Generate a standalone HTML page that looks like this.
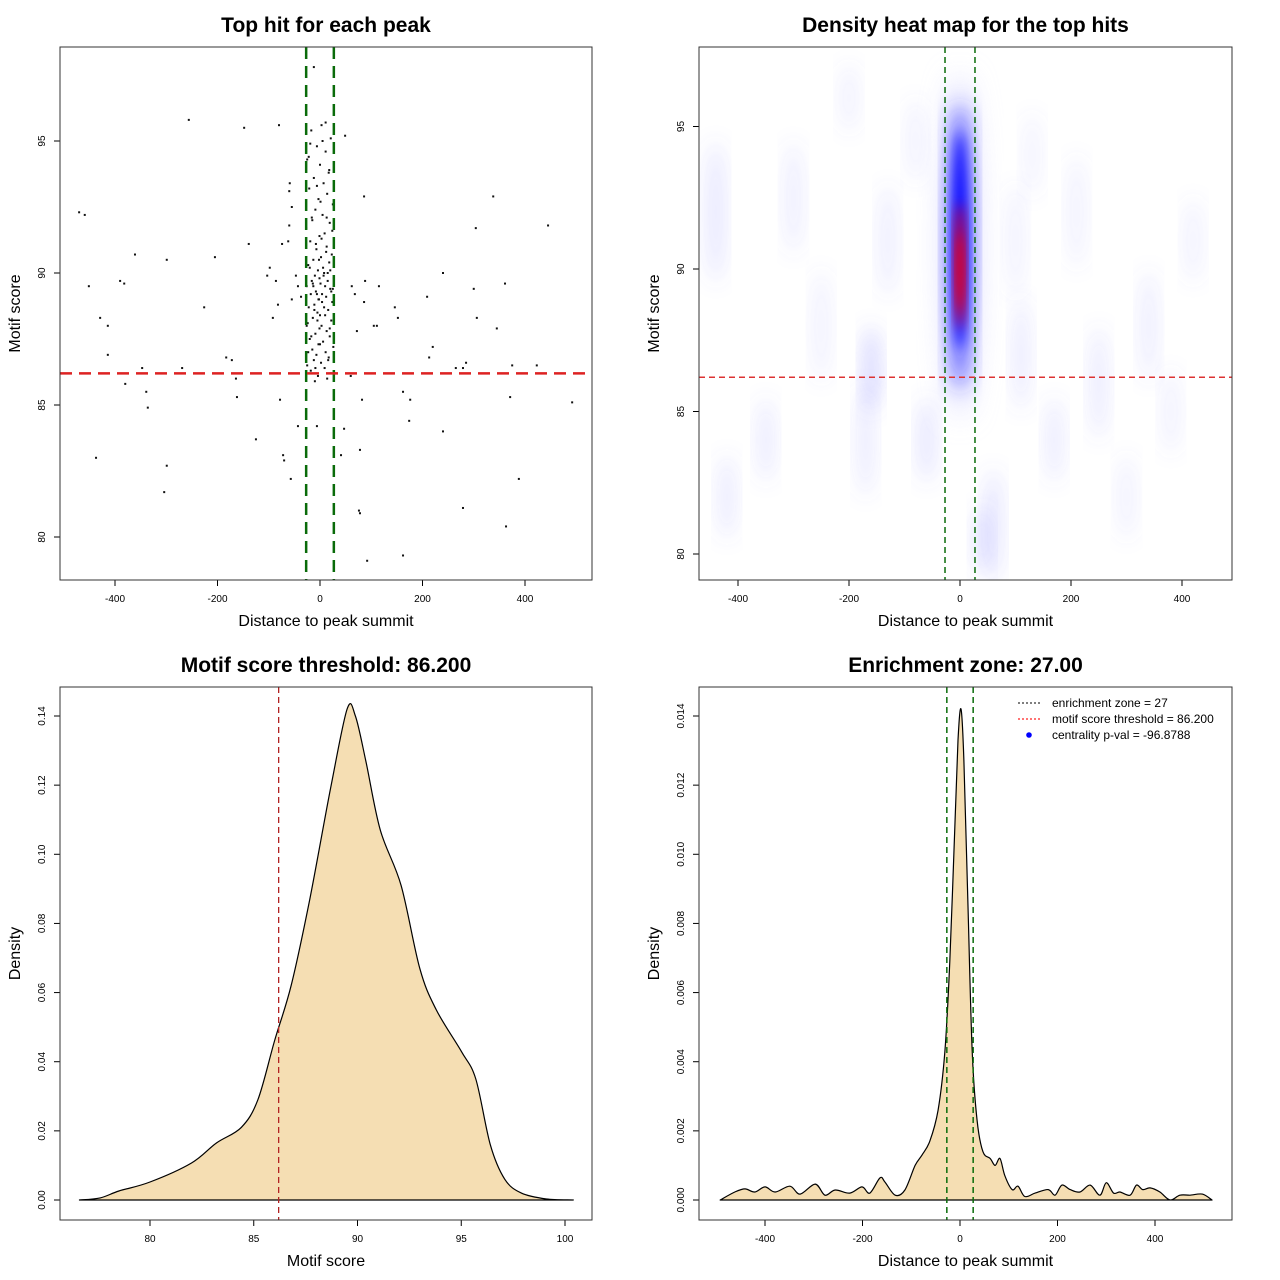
<!DOCTYPE html>
<html><head><meta charset="utf-8"><style>
html,body{margin:0;padding:0;background:#fff}
svg{display:block;font-family:"Liberation Sans",sans-serif}
</style></head><body>
<svg id="root" width="1280" height="1280" viewBox="0 0 1280 1280">
<defs>
<filter id="blur6" x="-50%" y="-50%" width="200%" height="200%"><feGaussianBlur stdDeviation="6"/></filter>
<filter id="blur10" x="-50%" y="-50%" width="200%" height="200%"><feGaussianBlur stdDeviation="10"/></filter>
<filter id="blur14" x="-80%" y="-80%" width="260%" height="260%"><feGaussianBlur stdDeviation="14"/></filter>
<clipPath id="clip2"><rect x="699" y="47" width="533" height="533"/></clipPath>
</defs>
</svg>
<script>
// ---------- DATA ----------
const outerX=[-470,-459,-451,-414,-390,-382,-380,-361,-347,-339,-336,-437,-429,-414,-299,-304,-299,-269,-256,-226,-205,-183,-172,-164,-162,-148,-139,-125,-98,-92,-86,-82,-78,-72,-70,-80,-57,-43,-59,-60,-55,-60,-62,-74,-103,-47,-43,-37,-55,60,62,68,49,86,88,82,72,86,105,111,115,146,162,176,152,174,209,213,220,240,240,265,279,285,300,304,306,338,345,361,371,375,388,423,445,492,279,363,76,78,92,162,78,47,41,-6,-12];
const outerY=[92.3,92.2,89.5,86.9,89.7,89.6,85.8,90.7,86.4,85.5,84.9,83.0,88.3,88.0,90.5,81.7,82.7,86.4,95.8,88.7,90.6,86.8,86.7,86.0,85.3,95.5,91.1,83.7,90.2,88.3,89.7,88.8,85.2,83.1,82.9,95.6,82.2,84.2,93.4,93.1,92.5,91.8,91.2,91.1,89.9,89.9,89.5,89.1,89.0,86.1,89.5,89.2,95.2,92.9,89.7,85.2,87.8,88.9,88.0,88.0,89.5,88.7,85.5,85.2,88.3,84.4,89.1,86.8,87.2,90.0,84.0,86.4,86.4,86.6,89.4,91.7,88.3,92.9,87.9,89.6,85.3,86.5,82.2,86.5,91.8,85.1,81.1,80.4,81.0,80.9,79.1,79.3,83.3,84.1,83.1,84.2,97.8];
const centerX=[3,-17,21,-6,11,-25,0,17,-12,7,-21,14,-3,25,-9,5,-15,19,-27,9,-1,-19,13,-7,23,2,-13,18,-23,6,-4,15,-10,27,-16,1,10,-26,20,-8,4,-18,12,-2,24,-11,8,-22,16,-5,0,-14,22,-24,3,-1,13,-9,19,-20,6,-3,26,-15,11,-7,17,-12,2,-25,9,-18,21,-4,14,-10,5,-22,18,-6,1,-16,24,-8,12,-2,-20,7,15,-13,22,-27,4,-11,10,-5,19,-17,0,-23,16,-9,8,-1,-14,25,-6,11,-19,3,20,-3,-26,13];
const centerY=[95.6,95.4,95.1,94.8,94.6,94.3,94.1,93.8,93.6,93.4,93.2,93.0,92.8,92.6,92.4,92.2,92.0,91.9,91.7,91.5,91.4,91.2,91.0,90.9,90.7,90.6,90.5,90.4,90.3,90.2,90.1,90.0,89.9,89.8,89.7,89.6,89.5,89.5,89.4,89.3,89.2,89.2,89.1,89.0,88.9,88.8,88.7,88.7,88.6,88.5,88.4,88.3,88.2,88.1,88.0,87.9,87.8,87.7,87.6,87.5,87.4,87.3,87.2,87.1,87.0,86.9,86.8,86.7,86.6,86.5,86.4,86.3,86.2,86.1,86.0,85.9,95.0,94.4,93.9,93.3,92.7,92.1,91.6,91.1,90.8,90.5,90.2,89.9,89.7,89.5,89.3,89.1,88.9,88.6,88.4,88.2,87.9,87.6,87.3,87.0,86.7,86.4,90.0,89.8,89.6,89.4,89.2,95.7,94.9,91.3,90.1,89.0,88.0,92.1,87.5,93.5,85.6];
// heatmap blobs: x, y (data), sx, sy (data spread), intensity
const blobX=[-440,-300,-160,-170,-60,-130,60,100,170,210,250,340,420,-350,-420,40,110,-80,-250,300,-200,130,380];
const blobY=[92,92.5,86.5,84,84,91,81,91,84,92,86,88,91,84,82,80.5,87,94.5,88,82,96,94,85];
const blobSX=[14,14,14,14,14,14,14,14,14,14,14,14,14,14,14,14,14,14,14,14,14,14,14];
const blobSY=[2.5,2,1.5,2,1.5,2,2,2,1.5,2,2,2,1.5,1.5,1.5,1.2,2,1.5,2,1.5,1.2,1.5,1.5];
const blobI=[0.2,0.14,0.3,0.16,0.2,0.14,0.2,0.12,0.16,0.12,0.16,0.14,0.12,0.16,0.16,0.2,0.16,0.12,0.12,0.12,0.12,0.1,0.12];
// motif score density
const scoreX=[76.6,77.6,78.5,80,82,83.2,84.4,85.2,86,86.8,87.7,88.7,89.5,89.9,90.4,91.1,92.1,93,93.8,95,95.7,96.4,97.1,97.9,99.1,100.4];
const scoreD=[0,0.0006,0.0026,0.0052,0.0107,0.0165,0.021,0.029,0.046,0.062,0.087,0.119,0.142,0.140,0.127,0.107,0.091,0.067,0.055,0.043,0.035,0.016,0.006,0.002,0.0003,0];
// distance density
const distX=[-492,-462,-441,-421,-400,-379,-349,-328,-297,-277,-256,-226,-201,-185,-164,-154,-133,-113,-92,-78,-62,-45,-31,-21,-10,-4,2,8,16,25,35,47,62,72,82,92,107,119,133,154,181,195,209,226,246,267,287,300,315,328,349,362,375,390,410,431,451,472,497,517];
const distD=[0,0.00023,0.00032,0.00023,0.00038,0.00023,0.0004,0.00017,0.00046,0.00014,0.00029,0.0002,0.00038,0.0002,0.00064,0.00052,0.00014,0.00029,0.001,0.0013,0.0017,0.0026,0.0043,0.0069,0.011,0.0133,0.0142,0.0127,0.0087,0.0043,0.0023,0.0014,0.0012,0.001,0.0012,0.0007,0.0003,0.0004,0.0001,0.0002,0.0003,0.00014,0.00043,0.0003,0.00023,0.00043,0.00014,0.0005,0.0002,0.00023,0.00014,0.00043,0.0003,0.00035,0.00023,0,0.00014,0.00014,0.00017,0];
const xTicks1=[-400,-200,0,200,400];
const yTicks1=[80,85,90,95];
const xTicks3=[80,85,90,95,100];
const yTicks3=[0,0.02,0.04,0.06,0.08,0.10,0.12,0.14];
const yTicks4=[0,0.002,0.004,0.006,0.008,0.010,0.012,0.014];
const zone=27, thresh=86.2;

// ---------- HELPERS ----------
const NS='http://www.w3.org/2000/svg';
const root=document.getElementById('root');
function el(tag,attrs,parent){const e=document.createElementNS(NS,tag);for(const k in attrs)e.setAttribute(k,attrs[k]);(parent||root).appendChild(e);return e;}
function lin(d0,d1,p0,p1){return v=>p0+(v-d0)*(p1-p0)/(d1-d0);}
function txt(s,x,y,size,opts,parent){const t=el('text',Object.assign({x:x,y:y,'font-size':size,'text-anchor':'middle',fill:'#000'},opts||{}),parent);t.textContent=s;return t;}
function smooth(P){
  let d='';
  for(let i=0;i<P.length-1;i++){
    const p0=P[Math.max(i-1,0)],p1=P[i],p2=P[i+1],p3=P[Math.min(i+2,P.length-1)];
    const c1=[p1[0]+(p2[0]-p0[0])/6,p1[1]+(p2[1]-p0[1])/6];
    const c2=[p2[0]-(p3[0]-p1[0])/6,p2[1]-(p3[1]-p1[1])/6];
    d+=` C${c1[0].toFixed(1)},${c1[1].toFixed(1)} ${c2[0].toFixed(1)},${c2[1].toFixed(1)} ${p2[0].toFixed(1)},${p2[1].toFixed(1)}`;
  }
  return d;
}

function panel(name,box,title,xlab,ylab,X,Y,xt,yt,yfmt){
  const g=el('g',{});
  
  
  const tt=txt(title,(box[0]+box[2])/2,box[1]-15,21,{'font-weight':'bold'},g);
  
  
  const xa=el('g',{},g);
  
  
  xt.forEach(v=>{const px=X(v);el('line',{x1:px,x2:px,y1:box[3],y2:box[3]+6,stroke:'#000'},xa);txt(String(v),px,box[3]+22,10,{},xa);});
  el('line',{x1:X(xt[0]),x2:X(xt[xt.length-1]),y1:box[3],y2:box[3],stroke:'#000'},xa);
  const xl=txt(xlab,(box[0]+box[2])/2,box[3]+46,16,{},g);
  
  
  const ya=el('g',{},g);
  
  
  yt.forEach(v=>{const py=Y(v);el('line',{x1:box[0]-6,x2:box[0],y1:py,y2:py,stroke:'#000'},ya);const lx=box[0]-15;txt(yfmt(v),lx,py,10,{transform:`rotate(-90 ${lx} ${py})`},ya);});
  const yl=txt(ylab,box[0]-40,(box[1]+box[3])/2,16,{transform:`rotate(-90 ${box[0]-40} ${(box[1]+box[3])/2})`},g);
  
  
  return g;
}
function frame(box,g){const r=el('rect',{x:box[0],y:box[1],width:box[2]-box[0],height:box[3]-box[1],fill:'none',stroke:'#333','stroke-width':1},g);}

// ---------- PANEL 1: scatter ----------
(function(){
  const box=[60,47,592,580];
  const X=lin(0,200,320,422.5), Y=lin(90,95,273,141);
  const g=panel('scatter-panel',box,'Top hit for each peak','Distance to peak summit','Motif score',X,Y,xTicks1,yTicks1,v=>String(v));
  const pts=el('g',{},g);
  
  
  const allX=outerX.concat(centerX), allY=outerY.concat(centerY);
  for(let i=0;i<allX.length;i++){
    const c=el('rect',{x:X(allX[i])-1,y:Y(allY[i])-1,width:2,height:2,fill:'#111'},pts);
    
    
  }
  [-zone,zone].forEach(z=>{const l=el('line',{x1:X(z),x2:X(z),y1:box[1],y2:box[3],stroke:'#0a6b0a','stroke-width':2.5,'stroke-dasharray':'12,7'},g);});
  const h=el('line',{x1:box[0],x2:box[2],y1:Y(thresh),y2:Y(thresh),stroke:'#dd2222','stroke-width':2.5,'stroke-dasharray':'12,7'},g);
  
  
  frame(box,g);
})();

// ---------- PANEL 2: heatmap ----------
(function(){
  const box=[699,47,1232,580];
  const X=lin(0,200,960,1071), Y=lin(90,95,269,126.5);
  const g=panel('heatmap-panel',box,'Density heat map for the top hits','Distance to peak summit','Motif score',X,Y,xTicks1,yTicks1,v=>String(v));
  const hm=el('g',{'clip-path':'url(#clip2)'},g);
  
  
  for(let i=0;i<blobX.length;i++){
    const e=el('ellipse',{cx:X(blobX[i]),cy:Y(blobY[i]),rx:X(blobSX[i])-X(0),ry:Y(0)-Y(blobSY[i]),fill:'#6a6aff','fill-opacity':blobI[i],filter:'url(#blur10)'},hm);
    
    
  }
  const core=[[0,90.8,30,6,'#d0d0ff',0.8,'url(#blur14)'],[0,90.8,20,5,'#3030ff',0.9,'url(#blur10)'],[0,91,12,3.8,'#0000ff',1,'url(#blur6)'],[0,90.1,8,2.2,'#ff0000',1,'url(#blur6)'],[0,89.9,5,1.4,'#ff1010',1,'url(#blur6)']];
  core.forEach(c=>{const e=el('ellipse',{cx:X(c[0]),cy:Y(c[1]),rx:X(c[2])-X(0),ry:Y(0)-Y(c[3]),fill:c[4],'fill-opacity':c[5],filter:c[6]},hm);});
  [-zone,zone].forEach(z=>{const l=el('line',{x1:X(z),x2:X(z),y1:box[1],y2:box[3],stroke:'#0a6b0a','stroke-width':1.5,'stroke-dasharray':'6,4'},g);});
  const h=el('line',{x1:box[0],x2:box[2],y1:Y(thresh),y2:Y(thresh),stroke:'#dd3333','stroke-width':1.5,'stroke-dasharray':'6,4'},g);
  
  
  frame(box,g);
})();

// ---------- PANEL 3: score density ----------
(function(){
  const box=[60,687,592,1220];
  const X=lin(80,100,150,565), Y=lin(0,0.14,1200,716);
  const g=panel('score-density-panel',box,'Motif score threshold: 86.200','Motif score','Density',X,Y,xTicks3,yTicks3,v=>v.toFixed(2));
  const P=scoreX.map((v,i)=>[X(v),Y(scoreD[i])]);
  const d='M'+P[0][0]+','+P[0][1]+smooth(P)+' Z';
  const p=el('path',{d:d,fill:'#f5deb3',stroke:'#000','stroke-width':1.2,'stroke-linejoin':'round'},g);
  
  
  const l=el('line',{x1:X(thresh),x2:X(thresh),y1:box[1],y2:box[3],stroke:'#b22222','stroke-width':1.3,'stroke-dasharray':'6,4'},g);
  
  
  frame(box,g);
})();

// ---------- PANEL 4: distance density ----------
(function(){
  const box=[699,687,1232,1220];
  const X=lin(0,200,960,1057.5), Y=lin(0,0.014,1200,716);
  const g=panel('distance-density-panel',box,'Enrichment zone: 27.00','Distance to peak summit','Density',X,Y,xTicks1,yTicks4,v=>v.toFixed(3));
  const P=distX.map((v,i)=>[X(v),Y(distD[i])]);
  const d='M'+P[0][0]+','+P[0][1]+smooth(P)+' Z';
  const p=el('path',{d:d,fill:'#f5deb3',stroke:'#000','stroke-width':1.2,'stroke-linejoin':'round'},g);
  
  
  [-zone,zone].forEach(z=>{const l=el('line',{x1:X(z),x2:X(z),y1:box[1],y2:box[3],stroke:'#0a6b0a','stroke-width':1.5,'stroke-dasharray':'6,4'},g);});
  const lg=el('g',{},g);
  
  
  const items=[['enrichment zone = 27','#333','line'],['motif score threshold = 86.200','#ff2222','line'],['centrality p-val = -96.8788','#0000ff','dot']];
  items.forEach((it,i)=>{
    const y=703+i*16;
    const e=el('g',{},lg);
    
    
    if(it[2]==='line')el('line',{x1:1018,x2:1042,y1:y,y2:y,stroke:it[1],'stroke-width':1.2,'stroke-dasharray':'2,2'},e);
    else el('circle',{cx:1029,cy:y,r:2.8,fill:it[1]},e);
    txt(it[0],1052,y+4,12,{'text-anchor':'start'},e);
  });
  frame(box,g);
})();
</script>
</body></html>
